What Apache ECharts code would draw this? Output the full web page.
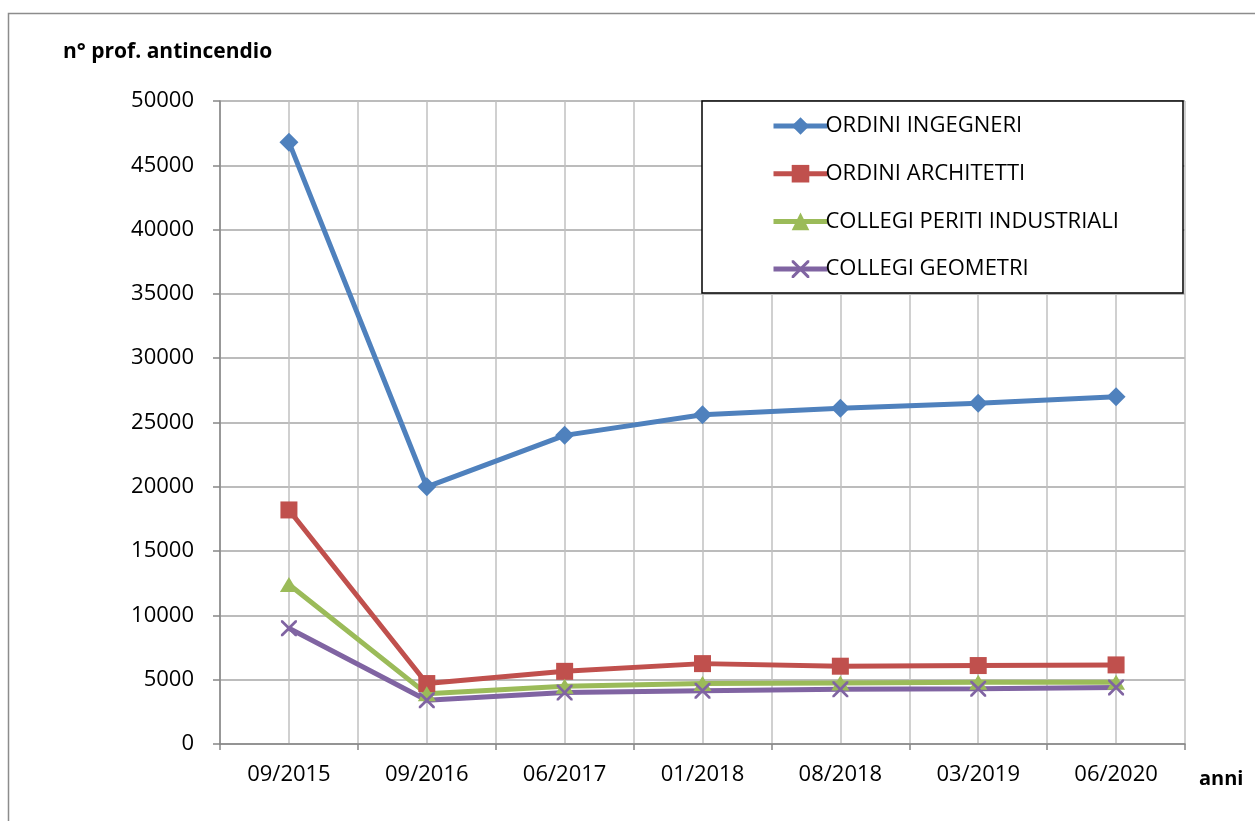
<!DOCTYPE html>
<html><head><meta charset="utf-8">
<script src="https://cdn.jsdelivr.net/npm/echarts@6/dist/echarts.min.js"></script>
<style>html,body{margin:0;padding:0;background:#fff}#c{width:1255px;height:821px}</style>
</head><body><div id="c"></div>
<script>
const categories = ['09/2015','09/2016','06/2017','01/2018','08/2018','03/2019','06/2020'];
const ingegneri = [46800, 20000, 24000, 25600, 26100, 26500, 27000];
const architetti = [18200, 4700, 5650, 6250, 6050, 6100, 6150];
const periti = [12400, 3900, 4500, 4700, 4750, 4800, 4800];
const geometri = [9000, 3400, 4000, 4150, 4250, 4300, 4400];
const yTicks = {min: 0, max: 50000, interval: 5000};

const FONT = '"Open Sans", sans-serif';
const crossPath = 'path://M0,0L1.2,0L5,3.8L8.8,0L10,0L10,1.2L6.2,5L10,8.8L10,10L8.8,10L5,6.2L1.2,10L0,10L0,8.8L3.8,5L0,1.2Z';

const chart = echarts.init(document.getElementById('c'), null, {renderer: 'canvas'});
function mk(name, data, color, symbol, size) {
  return {
    name, type: 'line', data, xAxisIndex: 0, yAxisIndex: 0,
    symbol, symbolSize: size, showSymbol: true,
    lineStyle: {color, width: 5},
    itemStyle: {color},
    emphasis: {disabled: true},
    z: 3
  };
}
chart.setOption({
  animation: false,
  textStyle: {fontFamily: FONT},
  graphic: [
    {type: 'rect', shape: {x: 8.5, y: 13.5, width: 1260, height: 820}, style: {fill: 'none', stroke: '#8c8c8c', lineWidth: 1.5}, z: 0},
    {type: 'rect', shape: {x: 702, y: 101, width: 481, height: 192}, style: {fill: '#fff', stroke: '#000', lineWidth: 1.5}, z: 50}
  ],
  title: {text: 'n° prof. antincendio', left: 58, top: 37,
    textStyle: {fontFamily: FONT, fontWeight: 'bold', fontSize: 21, color: '#000'}},
  legend: {
    orient: 'vertical', left: 766, top: 110, z: 60,
    itemWidth: 54, itemHeight: 22, itemGap: 25.7,
    lineStyle: {width: 5},
    textStyle: {fontFamily: FONT, fontSize: 22, color: '#000', lineHeight: 22, padding: [0,0,0,-7]},
    data: ['ORDINI INGEGNERI','ORDINI ARCHITETTI','COLLEGI PERITI INDUSTRIALI','COLLEGI GEOMETRI']
  },
  grid: {left: 220, top: 101, right: 70, bottom: 77, containLabel: false},
  xAxis: [
    {type: 'category', data: categories, boundaryGap: true,
     axisLine: {lineStyle: {color: '#868686', width: 1.5}},
     axisTick: {show: true, length: 6, lineStyle: {color: '#868686', width: 1.5}},
     axisLabel: {fontFamily: FONT, fontSize: 22, color: '#000', margin: 20},
     splitLine: {show: false},
     name: 'anni', nameLocation: 'end', nameGap: 14,
     nameTextStyle: {fontFamily: FONT, fontWeight: 'bold', fontSize: 20, color: '#000', verticalAlign: 'top', padding: [25,0,0,0]}},
    {type: 'value', min: 0, max: 14, interval: 1, show: true, position: 'bottom',
     axisLine: {show: false}, axisTick: {show: false}, axisLabel: {show: false},
     splitLine: {show: true, lineStyle: {color: '#c0c0c0', width: 1.5}}}
  ],
  yAxis: {type: 'value', min: yTicks.min, max: yTicks.max, interval: yTicks.interval,
    axisLine: {show: true, lineStyle: {color: '#868686', width: 1.5}},
    axisTick: {show: true, length: 7, lineStyle: {color: '#868686', width: 1.5}},
    axisLabel: {fontFamily: FONT, fontSize: 22, color: '#000', margin: 26, formatter: v => String(v)},
    splitLine: {show: true, lineStyle: {color: '#a6a6a6', width: 1.5}}},
  series: [
    mk('ORDINI INGEGNERI', ingegneri, '#4F81BD', 'diamond', [19,19]),
    mk('ORDINI ARCHITETTI', architetti, '#C0504D', 'rect', [17,17]),
    mk('COLLEGI PERITI INDUSTRIALI', periti, '#9BBB59', 'triangle', [18,15]),
    mk('COLLEGI GEOMETRI', geometri, '#8064A2', crossPath, [16,16])
  ]
});
</script></body></html>
